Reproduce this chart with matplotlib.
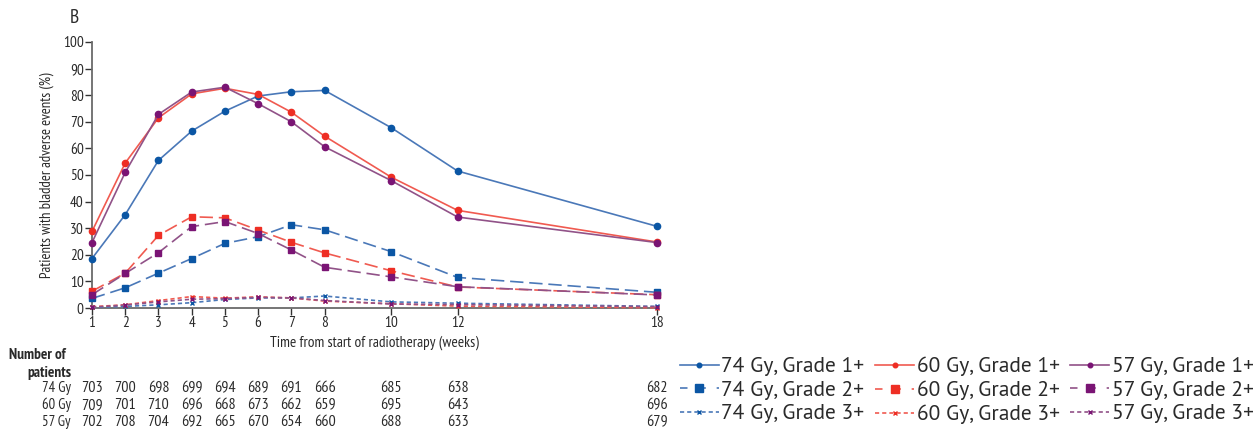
import matplotlib
matplotlib.use("Agg")
import matplotlib.pyplot as plt
from matplotlib.lines import Line2D

plt.rcParams['font.family'] = ['PT Sans Narrow', 'DejaVu Sans']

weeks = [1, 2, 3, 4, 5, 6, 7, 8, 10, 12, 18]

g74_1 = [18.6, 35.1, 55.5, 66.5, 74.0, 79.7, 81.3, 81.8, 67.8, 51.5, 30.7]
g60_1 = [28.8, 54.5, 71.5, 80.5, 82.6, 80.3, 73.6, 64.6, 49.2, 36.7, 24.8]
g57_1 = [24.6, 51.0, 72.8, 81.2, 83.0, 76.8, 70.0, 60.6, 47.9, 34.2, 24.6]

g74_2 = [3.6, 7.6, 13.1, 18.6, 24.3, 26.8, 31.3, 29.4, 21.2, 11.5, 5.9]
g60_2 = [6.3, 13.1, 27.3, 34.3, 33.9, 29.3, 24.7, 20.7, 14.0, 7.9, 5.0]
g57_2 = [5.0, 13.0, 20.8, 30.6, 32.5, 28.0, 21.8, 15.3, 11.7, 8.0, 4.9]

g74_3 = [0.2, 0.6, 1.2, 2.0, 3.2, 3.8, 3.8, 4.5, 2.3, 1.8, 0.6]
g60_3 = [0.5, 1.2, 2.8, 4.3, 3.7, 4.2, 3.8, 2.6, 1.6, 0.7, 0.1]
g57_3 = [0.3, 1.1, 2.3, 3.3, 3.5, 4.0, 3.8, 2.8, 1.5, 1.3, 0.5]

risk_labels = ["74 Gy", "60 Gy", "57 Gy"]
risk_74 = [703, 700, 698, 699, 694, 689, 691, 666, 685, 638, 682]
risk_60 = [709, 701, 710, 696, 668, 673, 662, 659, 695, 643, 696]
risk_57 = [702, 708, 704, 692, 665, 670, 654, 660, 688, 633, 679]

series_labels = ["74 Gy, Grade 1+", "60 Gy, Grade 1+", "57 Gy, Grade 1+",
                 "74 Gy, Grade 2+", "60 Gy, Grade 2+", "57 Gy, Grade 2+",
                 "74 Gy, Grade 3+", "60 Gy, Grade 3+", "57 Gy, Grade 3+"]

c_blue_m, c_blue_l = "#0b56a4", "#4a78b8"
c_red_m, c_red_l = "#ee2e24", "#f05a50"
c_pur_m, c_pur_l = "#7a1474", "#915288"
txt = '#2a2a2a'

fig = plt.figure(figsize=(12.53, 4.30), dpi=100)
W, H = 1253, 430
ax = fig.add_axes([92 / W, 1 - 308 / H, (657 - 92) / W, (308 - 42) / H])

series = [
    (g74_1, c_blue_m, c_blue_l, 1), (g60_1, c_red_m, c_red_l, 1), (g57_1, c_pur_m, c_pur_l, 1),
    (g74_2, c_blue_m, c_blue_l, 2), (g60_2, c_red_m, c_red_l, 2), (g57_2, c_pur_m, c_pur_l, 2),
    (g74_3, c_blue_m, c_blue_l, 3), (g60_3, c_red_m, c_red_l, 3), (g57_3, c_pur_m, c_pur_l, 3),
]

def style(grade, leg=False):
    if grade == 1:
        return dict(linestyle='-', marker='o', markersize=3.3 if leg else 4.5, linewidth=1.2)
    if grade == 2:
        return dict(linestyle=(0, (8, 3.5)) if not leg else (0, (4.5, 6.5)), marker='s',
                    markersize=6.2 if leg else 4.4, linewidth=1.2)
    return dict(linestyle=(0, (2.5, 1.8)), marker='x', markersize=2.8, linewidth=1.2, markeredgewidth=1)

handles = []
for (vals, cm, cl, g) in series:
    ax.plot(weeks, vals, color=cl, markerfacecolor=cm, markeredgecolor=cm,
            clip_on=False, zorder=3, **style(g))
    handles.append(Line2D([], [], color=cl, markerfacecolor=cm, markeredgecolor=cm, **style(g, True)))

ax.set_xlim(1, 18)
ax.set_ylim(0, 100)
ax.set_xticks(weeks)
ax.set_xticklabels([str(w) for w in weeks])
ax.set_yticks(range(0, 101, 10))
for s in ['top', 'right']:
    ax.spines[s].set_visible(False)
for s in ['left', 'bottom']:
    ax.spines[s].set_color('#6a6a6a')
    ax.spines[s].set_linewidth(1.3)
ax.tick_params(axis='both', colors='#333333', labelcolor=txt, labelsize=11, length=5, width=1)
ax.tick_params(axis='x', pad=1)
ax.tick_params(axis='y', pad=1)
ax.set_xlabel("Time from start of radiotherapy (weeks)", fontsize=11, color=txt, labelpad=4)
ax.set_ylabel("Patients with bladder adverse events (%)", fontsize=10.5, color=txt, labelpad=6)

fig.text(70 / W, 1 - 18 / H, "B", fontsize=14, color=txt, va='center', ha='left')

# Number at risk table
fig.text(9 / W, 1 - 355 / H, "Number of", fontsize=11, fontweight='bold', color=txt, va='center')
fig.text(71 / W, 1 - 373 / H, "patients", fontsize=11, fontweight='bold', color=txt, va='center', ha='right')
rows_y = [388, 405, 422]
for lab, row, yy in zip(risk_labels, [risk_74, risk_60, risk_57], rows_y):
    fig.text(71 / W, 1 - yy / H, lab, fontsize=10.5, color=txt, va='center', ha='right')
    for w, n in zip(weeks, row):
        ax.annotate(str(n), xy=(w, 0), xytext=(w, 1 - yy / H),
                    textcoords=('data', 'figure fraction'), fontsize=11.5, color=txt,
                    ha='center', va='center', annotation_clip=False)

# legend: column-major ordering so rows read as grade, columns as dose
order = [0, 3, 6, 1, 4, 7, 2, 5, 8]
leg = fig.legend([handles[i] for i in order], [series_labels[i] for i in order], ncol=3,
                 loc='upper left', bbox_to_anchor=(680 / W, 1 - 357 / H), frameon=False,
                 prop={'family': ['PT Sans', 'DejaVu Sans'], 'size': 15.5},
                 handlelength=1.8, handletextpad=0.12,
                 columnspacing=0.5, labelspacing=0.2, borderaxespad=0, borderpad=0)
for t in leg.get_texts():
    t.set_color(txt)

fig.savefig("out.png", dpi=100)
